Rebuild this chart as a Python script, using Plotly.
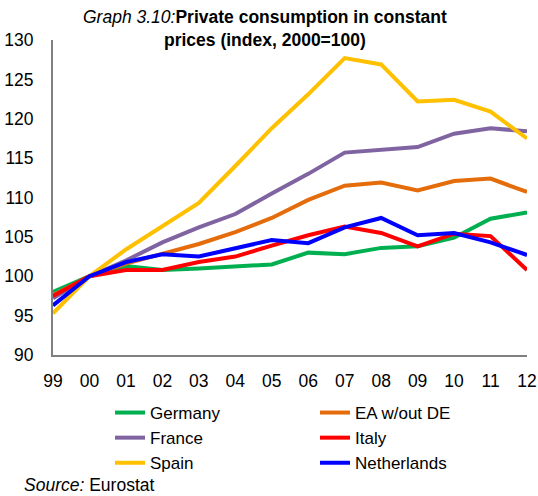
import plotly.graph_objects as go

years = ["99", "00", "01", "02", "03", "04", "05", "06", "07", "08", "09", "10", "11", "12"]

germany = [98.0, 100.0, 101.3, 100.8, 101.0, 101.3, 101.5, 103.0, 102.8, 103.6, 103.8, 104.9, 107.3, 108.1]
ea_wout_de = [97.6, 100.0, 101.6, 102.9, 104.1, 105.6, 107.4, 109.7, 111.5, 111.9, 110.9, 112.1, 112.4, 110.7]
france = [97.2, 100.0, 102.0, 104.3, 106.2, 107.9, 110.5, 113.0, 115.7, 116.0, 116.4, 118.1, 118.8, 118.4]
italy = [97.5, 100.0, 100.8, 100.8, 101.8, 102.5, 103.9, 105.2, 106.3, 105.5, 103.8, 105.4, 105.1, 100.8]
spain = [95.3, 100.0, 103.4, 106.3, 109.3, 114.0, 118.8, 123.1, 127.7, 126.9, 122.2, 122.4, 120.9, 117.5]
netherlands = [96.3, 100.0, 101.8, 102.8, 102.5, 103.5, 104.6, 104.2, 106.2, 107.4, 105.2, 105.5, 104.3, 102.7]

series = [
    ("Germany", germany, "#00B050", "legend"),
    ("EA w/out DE", ea_wout_de, "#E46C0A", "legend2"),
    ("France", france, "#8064A2", "legend"),
    ("Italy", italy, "#FF0000", "legend2"),
    ("Spain", spain, "#FFC000", "legend"),
    ("Netherlands", netherlands, "#0000FF", "legend2"),
]

fig = go.Figure()
for name, vals, color, leg in series:
    fig.add_trace(go.Scatter(x=years, y=vals, name=name, mode="lines",
                             legend=leg, legendgroup=name,
                             line=dict(color=color, width=4)))

FONT = "Liberation Sans, Arial, sans-serif"
FS = 17.5
W, H = 538, 496
L, R, T, B = 53, 11, 40, 141
PW, PH = W - L - R, H - T - B


def px(xp):
    return (xp - L) / PW


def py(yp):
    return (H - B - yp) / PH


leg_common = dict(orientation="v", xref="container", yref="container",
                  xanchor="left", yanchor="top",
                  font=dict(size=17, family=FONT, color="black"),
                  tracegroupgap=0, bgcolor="rgba(0,0,0,0)")

fig.update_layout(
    width=W, height=H,
    margin=dict(l=L, r=R, t=T, b=B, autoexpand=False),
    paper_bgcolor="white", plot_bgcolor="white",
    font=dict(family=FONT, size=FS, color="black"),
    showlegend=True,
    legend=dict(x=110 / W, y=1 - 395 / H, **leg_common),
    legend2=dict(x=315 / W, y=1 - 395 / H, **leg_common),
    xaxis=dict(showgrid=False, showline=True, linecolor="#808080", linewidth=2,
               ticks="", tickfont=dict(size=FS), range=[0, 13], zeroline=False,
               ticklabelstandoff=9),
    yaxis=dict(showgrid=False, showline=True, linecolor="#808080", linewidth=2,
               ticks="", range=[90, 130], dtick=5, tickfont=dict(size=FS),
               zeroline=False, ticklabelstandoff=14),
)

fig.add_annotation(text="<i>Graph 3.10:</i><b>Private consumption in constant</b>",
                   xref="paper", yref="paper", x=px(265), y=py(17),
                   xanchor="center", yanchor="middle", showarrow=False,
                   font=dict(size=FS, family=FONT, color="black"))
fig.add_annotation(text="<b>prices (index, 2000=100)</b>",
                   xref="paper", yref="paper", x=px(265), y=py(40),
                   xanchor="center", yanchor="middle", showarrow=False,
                   font=dict(size=FS, family=FONT, color="black"))
fig.add_annotation(text="<i>Source:</i> Eurostat",
                   xref="paper", yref="paper", x=px(22), y=py(485),
                   xanchor="left", yanchor="middle", showarrow=False,
                   font=dict(size=FS, family=FONT, color="black"))

fig.write_html("out.html",
               config={"displayModeBar": False},
               post_script="document.body.style.margin='0';"
                           "document.body.style.overflow='hidden';")
